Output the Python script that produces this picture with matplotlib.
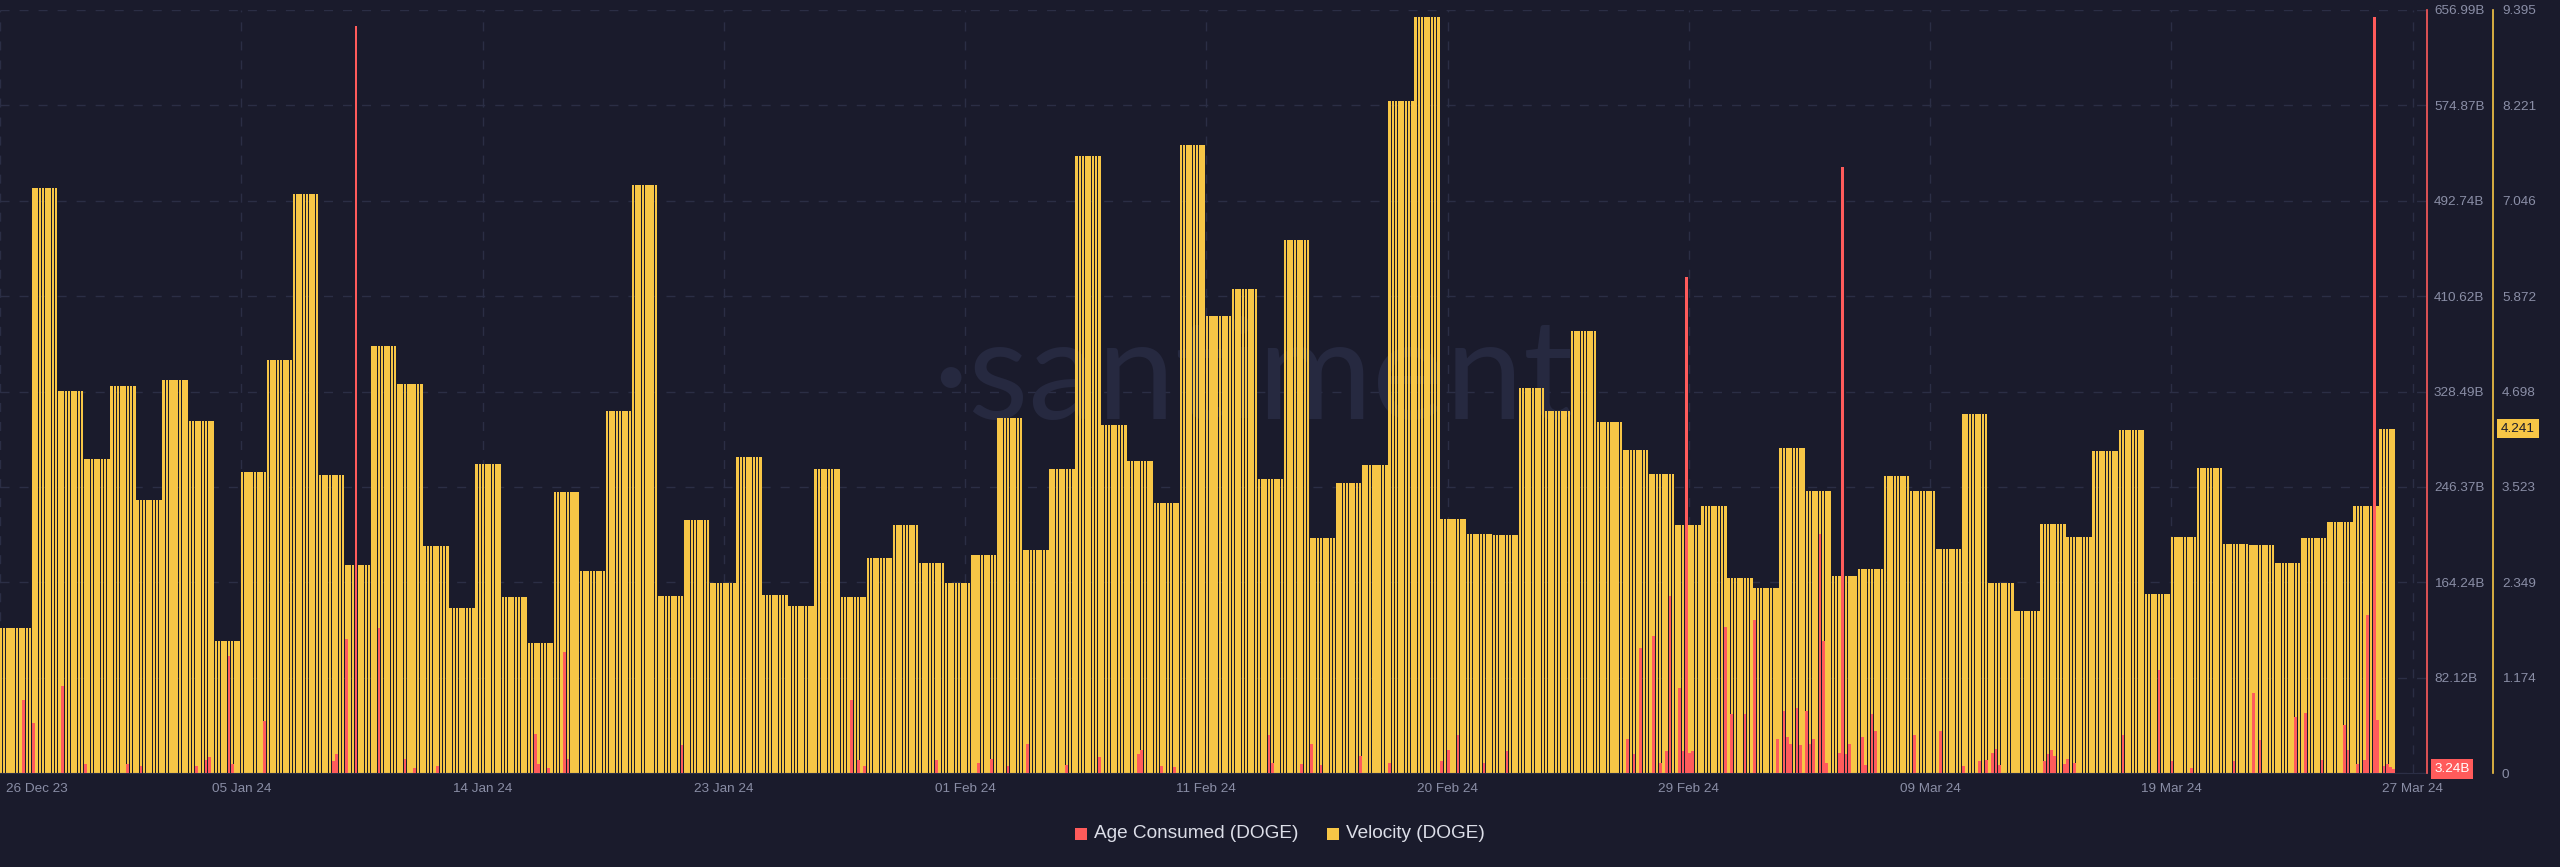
import numpy as np
import matplotlib
matplotlib.use("Agg")
import matplotlib.pyplot as plt
from matplotlib.patches import Rectangle
from matplotlib.transforms import ScaledTranslation

plt.rcParams['font.family'] = ['Liberation Sans', 'DejaVu Sans']

# ---------------- data ----------------
# daily velocity (DOGE), 26 Dec 23 .. 26 Mar 24 (last day partial)
velocity = [1.789, 7.201, 4.701, 3.868, 4.762, 3.359, 4.842, 4.339, 1.630, 3.708,
            5.080, 7.128, 3.665, 2.555, 5.259, 4.792, 2.789, 2.028, 3.800, 2.170,
            1.599, 3.462, 2.488, 4.456, 7.238, 2.182, 3.113, 2.335, 3.892, 2.194,
            2.059, 3.745, 2.163, 2.653, 3.052, 2.586, 2.341, 2.684, 4.370, 2.746,
            3.745, 7.594, 4.284, 3.843, 3.322, 7.735, 5.632, 5.957, 3.616, 6.558,
            2.892, 3.567, 3.794, 8.274, 9.310, 3.131, 2.941, 2.929, 4.737, 4.461,
            5.442, 4.321, 3.983, 3.683, 3.052, 3.285, 2.402, 2.279, 4.002, 3.469,
            2.427, 2.507, 3.652, 3.469, 2.758, 4.419, 2.341, 1.991, 3.065, 2.905,
            3.959, 4.222, 2.200, 2.911, 3.751, 2.825, 2.807, 2.586, 2.892, 3.094,
            3.285, 4.241]
# sub-bars (3h) per day: first day shown from 25 Dec 18:00, last day partial
bars_per_day = [10] + [8] * 90 + [5]

# age consumed (DOGE, billions) visible spikes: time in days since 26 Dec 23 00:00
age_days = [0.66, 1.02, 2.16, 3.04, 4.65, 5.15, 7.30, 7.65, 7.80, 8.53, 8.64, 9.91,
            12.52, 12.67, 13.04, 13.41, 14.29, 15.28, 15.70, 16.54, 20.27, 20.41,
            20.80, 21.41, 21.53, 25.91, 32.40, 32.65, 32.91, 35.66, 37.27, 37.78,
            38.40, 39.16, 40.65, 41.90, 43.41, 43.54, 44.29, 44.87, 48.42, 48.55,
            49.66, 50.04, 50.40, 51.89, 53.04, 55.06, 55.27, 55.66, 56.66, 57.54,
            62.16, 62.44, 62.67, 63.16, 63.40, 63.68, 63.79, 64.16, 64.29, 64.42,
            64.55, 64.67, 65.93, 66.17, 66.67, 67.04, 67.93, 68.16, 68.29, 68.42,
            68.66, 68.79, 69.04, 69.16, 69.29, 69.54, 69.67, 69.79, 70.29, 70.41,
            70.54, 70.67, 71.17, 71.30, 71.54, 71.67, 73.16, 74.17, 75.04, 75.66,
            75.91, 76.15, 76.28, 76.41, 78.16, 78.28, 78.41, 78.54, 78.91, 79.04,
            79.30, 81.16, 82.53, 83.04, 83.79, 85.42, 86.16, 86.41, 87.79, 88.17,
            88.79, 89.66, 89.79, 90.19, 90.41, 90.54, 90.78, 90.91, 91.16, 91.29,
            91.41, 91.56]
age_vals = [63, 43, 75, 8, 8, 6, 6, 11, 14, 101, 8, 45,
            10, 16, 115, 643, 125, 12, 4, 6, 34, 8,
            4, 104, 12, 24, 63, 11, 6, 11, 9, 12,
            6, 25, 7, 14, 16, 20, 6, 5, 33, 9,
            8, 25, 7, 15, 9, 10, 20, 33, 9, 19,
            29, 16, 108, 118, 9, 19, 152, 73, 19, 427,
            17, 19, 126, 51, 51, 132, 29, 53, 31, 25,
            56, 24, 53, 25, 29, 206, 114, 9, 17, 522,
            16, 25, 31, 7, 51, 36, 33, 36, 6, 10,
            11, 17, 21, 7, 10, 16, 20, 15, 8, 12,
            9, 33, 89, 10, 4, 10, 69, 28, 48, 52,
            11, 41, 20, 8, 11, 136, 651, 46, 6, 8,
            5, 3.24]

vel_ticks = ["0", "1.174", "2.349", "3.523", "4.698", "5.872", "7.046", "8.221", "9.395"]
age_ticks = ["82.12B", "164.24B", "246.37B", "328.49B", "410.62B", "492.74B", "574.87B", "656.99B"]
vel_max = 9.395
age_max = 656.99
x_labels = ["26 Dec 23", "05 Jan 24", "14 Jan 24", "23 Jan 24", "01 Feb 24", "11 Feb 24",
            "20 Feb 24", "29 Feb 24", "09 Mar 24", "19 Mar 24", "27 Mar 24"]

# ---------------- style ----------------
bg = '#1a1b2c'
yellow = '#f7c646'
red = '#ff5b5b'
grid_c = '#2b2e45'
tick_c = '#8a8ea6'
legend_c = '#dcdee8'
W, H = 2560, 867

fig = plt.figure(figsize=(W / 100, H / 100), dpi=100, facecolor=bg)
ax_left, ax_right_px, ax_top_px, ax_bot_px = 0, 2427, 10, 773
ax = fig.add_axes([ax_left / W, (H - ax_bot_px) / H, (ax_right_px - ax_left) / W,
                   (ax_bot_px - ax_top_px) / H])
ax.set_facecolor(bg)

slot = 0.125
t0 = -0.25
n = sum(bars_per_day)
centers = t0 + (np.arange(n) + 0.5) * slot
vel_sub = np.repeat(velocity, bars_per_day)
age_sub = np.zeros(n)
for d, v in zip(age_days, age_vals):
    i = int(np.floor((d - t0) / slot))
    i = min(max(i, 0), n - 1)
    age_sub[i] = max(age_sub[i], v)

ax.bar(centers, vel_sub, width=slot * 0.78, color=yellow, linewidth=0, zorder=2)

x_min, x_max = -0.215, 92.84
ax.set_xlim(x_min, x_max)
ax.set_ylim(0, vel_max)

# watermark
ax.text(932 / W, 1 - 380 / H, '·santiment', transform=fig.transFigure, fontsize=100,
        family=['Lato', 'DejaVu Sans'], fontweight='normal', color='#262940',
        ha='left', va='center', zorder=1)

# age consumed axis
ax2 = ax.twinx()
m = age_sub > 0
ax2.bar(centers[m], age_sub[m], width=slot * 0.85, color=red, linewidth=0, zorder=3)
ax2.set_ylim(0, age_max)
ax2.set_xlim(x_min, x_max)
ax2.set_yticks(np.linspace(0, age_max, 9)[1:])
ax2.set_yticklabels(age_ticks)
ax2.tick_params(axis='y', length=0, pad=5, labelcolor=tick_c, labelsize=9.7)
for s in ['left', 'top', 'bottom']:
    ax2.spines[s].set_visible(False)
ax2.spines['right'].set_color(red)
ax2.spines['right'].set_linewidth(1.2)

# x ticks evenly spaced in screen, like the source chart
step = 9.25
tick_pos = [x_min + k * step for k in range(len(x_labels))]
ax.set_xticks(tick_pos)
ax.set_xticklabels(x_labels)
ax.tick_params(axis='x', length=0, pad=7, labelcolor=tick_c, labelsize=9.7)
lbls = ax.get_xticklabels()
lbls[0].set_horizontalalignment('left')
lbls[0].set_transform(lbls[0].get_transform() + ScaledTranslation(6 / 100, 0, fig.dpi_scale_trans))

# velocity axis (outer right) -- set after twinx, which moves ticks left
ax.yaxis.tick_right()
ax.yaxis.set_label_position('right')
ax.set_yticks(np.linspace(0, vel_max, 9))
ax.set_yticklabels(vel_ticks)
ax.tick_params(axis='y', which='both', left=False, right=True, labelleft=False,
               labelright=True, length=0, pad=6.5, labelcolor=tick_c, labelsize=9.7)
for s in ['left', 'top']:
    ax.spines[s].set_visible(False)
ax.spines['bottom'].set_color('#2c2f46')
ax.spines['right'].set_visible(True)
ax.spines['right'].set_position(('outward', 47.5))
ax.spines['right'].set_color(yellow)
ax.spines['right'].set_linewidth(1.2)

ax.set_axisbelow(True)
ax.grid(True, axis='both', color=grid_c, linestyle=(0, (6.5, 7.2)), linewidth=1.0)

# last value markers
ax2.text(2452 / 2427, age_vals[-1], '3.24B', transform=ax2.get_yaxis_transform(),
         ha='center', va='center', fontsize=9.7, color='white', clip_on=False,
         bbox=dict(boxstyle='square,pad=0.28', fc=red, ec='none'))
ax2.text(2518 / 2427, velocity[-1] / vel_max, '4.241', transform=ax2.transAxes,
         ha='center', va='center', fontsize=9.7, color=bg, clip_on=False,
         bbox=dict(boxstyle='square,pad=0.28', fc=yellow, ec='none'))

# legend
legend_items = [("Age Consumed (DOGE)", red, 1075), ("Velocity (DOGE)", yellow, 1327)]
for label, col, px in legend_items:
    fig.patches.append(Rectangle((px / W, 1 - 840 / H), 12 / W, 12 / H,
                                 transform=fig.transFigure, facecolor=col, edgecolor='none'))
    fig.text((px + 19) / W, 1 - 834 / H, label, fontsize=13.7, color=legend_c,
             ha='left', va='center')

fig.savefig('out.png', dpi=100, facecolor=bg)
